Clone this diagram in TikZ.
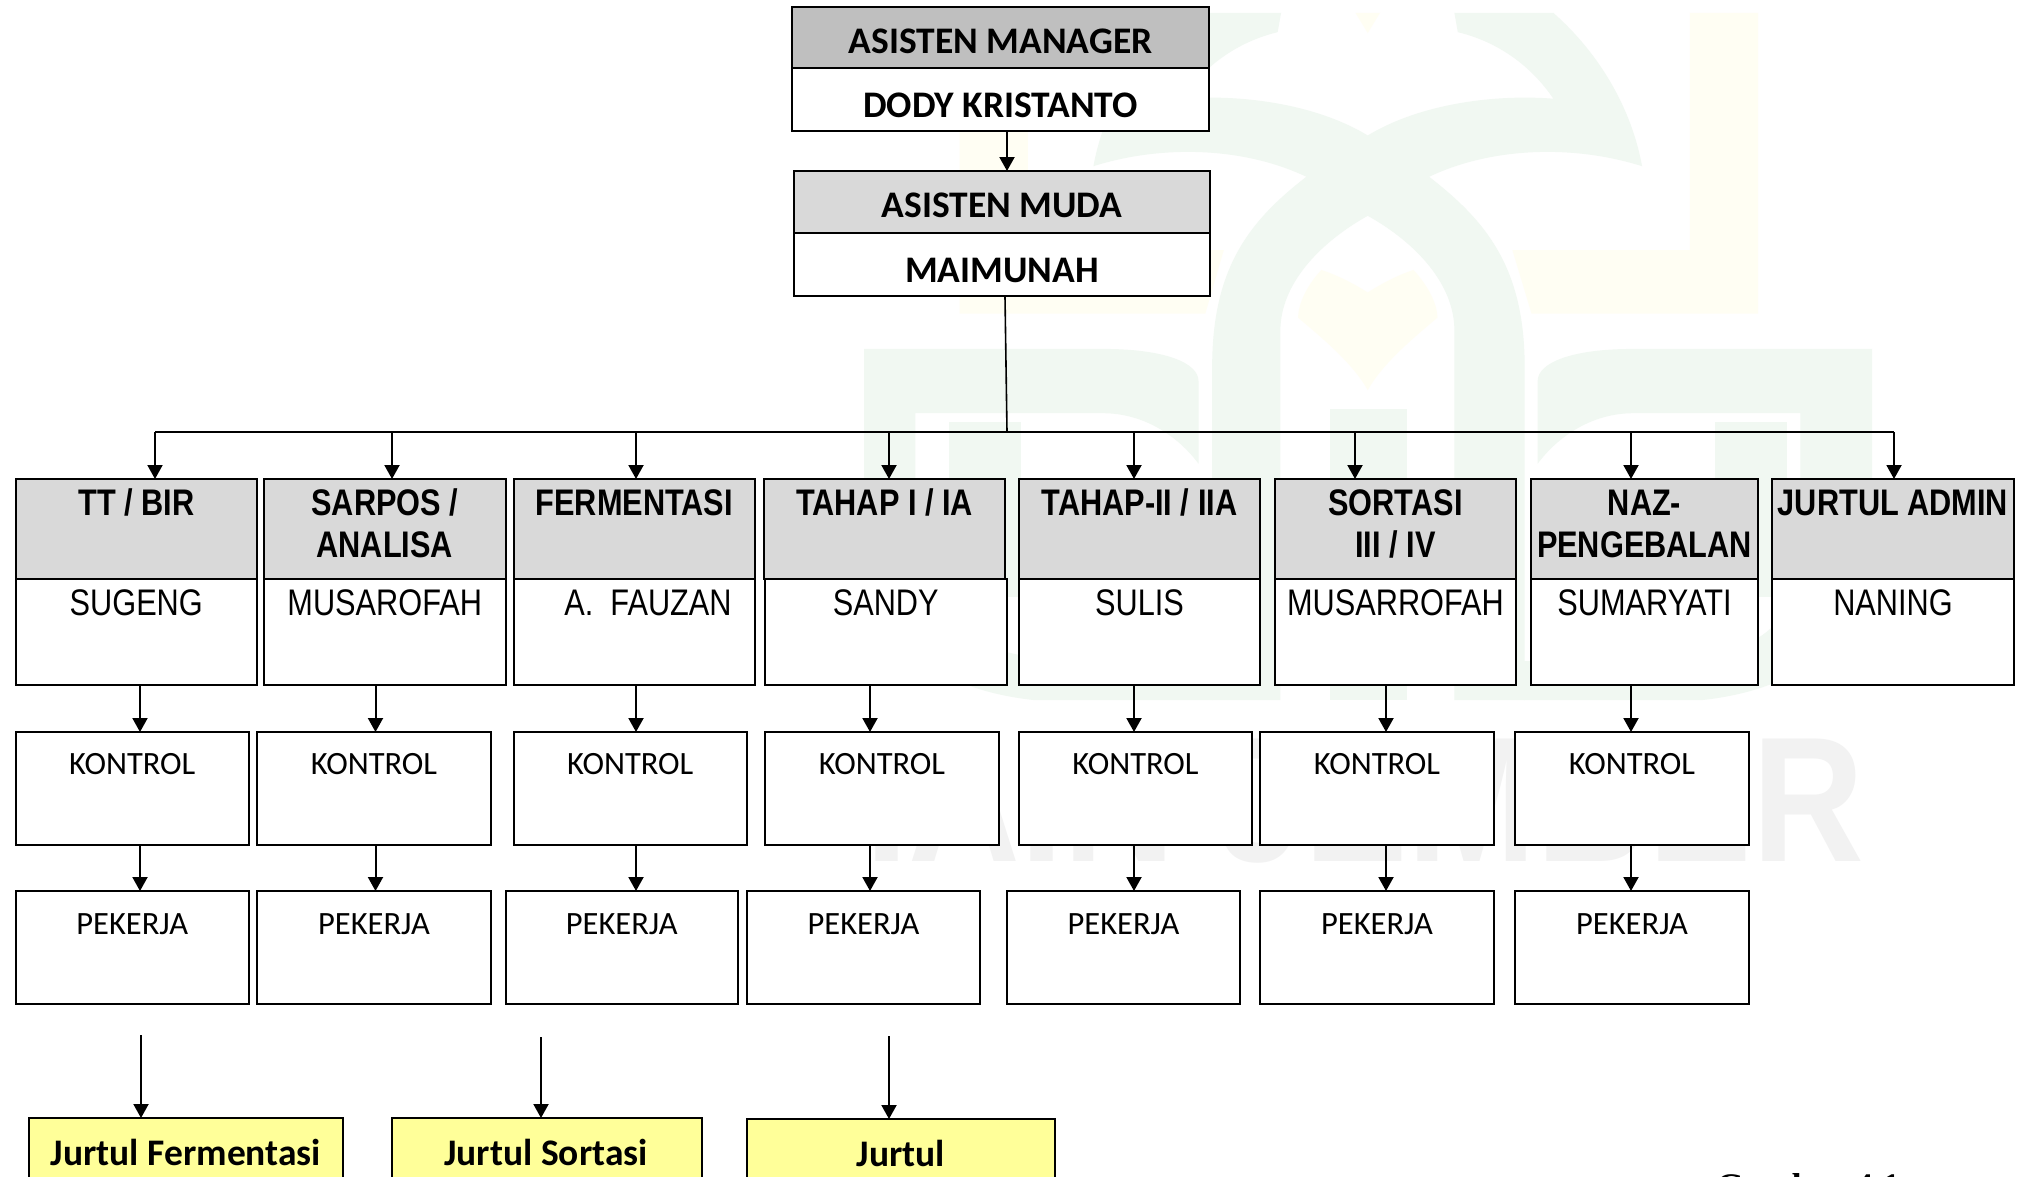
\documentclass[tikz,border=0pt]{standalone}
\usepackage{fontspec}
\usetikzlibrary{arrows.meta}
\newfontfamily\carlitofam{Carlito}
\newfontfamily\hdrfam[FakeStretch=0.83]{Liberation Sans}
\newfontfamily\wmfam[FakeStretch=0.87]{Liberation Sans}
\setmainfont{Liberation Serif}
\definecolor{wmgreen}{HTML}{F1F8F2}
\definecolor{wmyellow}{HTML}{FFFEF3}
\definecolor{wmgrey}{HTML}{F2F2F2}
\definecolor{headgrey}{HTML}{D9D9D9}
\definecolor{mgrgrey}{HTML}{BFBFBF}
\definecolor{jurtul}{HTML}{FFFF99}
\tikzset{
  boxbase/.style={draw=black,line width=2pt,inner sep=0pt,outer sep=0pt},
  headbox/.style={boxbase,fill=headgrey},
  mgrbox/.style={boxbase,fill=mgrgrey},
  plainbox/.style={boxbase,fill=white},
  yellowbox/.style={boxbase,fill=jurtul},
  txt/.style={anchor=base,inner sep=0pt,align=center,text=black},
  bigb/.style={txt,font=\carlitofam\fontsize{37.5}{40}\selectfont\bfseries},
  hdrb/.style={txt,font=\hdrfam\fontsize{37}{42.5}\selectfont\bfseries},
  hdrr/.style={txt,font=\hdrfam\fontsize{37}{42}\selectfont},
  small/.style={txt,font=\carlitofam\fontsize{32.5}{36}\selectfont},
  arr/.style={draw=black,line width=2pt,-{Triangle[length=14pt,width=15pt]}},
  wire/.style={draw=black,line width=2pt},
}
% \bxt{name}{box style}{x1}{y1}{x2}{y2}{text style}{baseline y}{text}
\newcommand\bxt[9]{%
  \pgfmathsetmacro\bw{#5-#3}\pgfmathsetmacro\bh{#6-#4}%
  \node[#2,minimum width=\bw pt,minimum height=\bh pt] (#1) at ({(#3+#5)/2},{(#4+#6)/2}) {};%
  \node[#7] (#1t) at ({(#3+#5)/2},#8) {#9};%
}
% \bxe{name}{box style}{x1}{y1}{x2}{y2}: a box with no text of its own
\newcommand\bxe[6]{%
  \pgfmathsetmacro\bw{#5-#3}\pgfmathsetmacro\bh{#6-#4}%
  \node[#2,minimum width=\bw pt,minimum height=\bh pt] (#1) at ({(#3+#5)/2},{(#4+#6)/2}) {};%
}
\begin{document}
\begin{tikzpicture}[x=1pt,y=-1pt]
\path[use as bounding box,clip] (0,0) rectangle (2027,1176);
\fill[white] (0,0) rectangle (2027,1176);
% watermark: logo (drawn in its own coordinates)
\begin{scope}[shift={(830,0)},xscale=0.6824,yscale=0.4591]
  \fill[wmyellow] (1260,28) -- (1360,28) -- (1360,683) -- (1028,683) -- (1000,545) -- (1260,545) -- cycle;
  \fill[wmyellow] (190,100) -- (290,100) -- (290,545) -- (577,545) -- (550,683) -- (190,683) -- cycle;
  \fill[wmyellow] (770,28) -- (806,28) -- (788,72) -- cycle;
  \fill[wmyellow] (720,588) .. controls (745,600) and (770,620) .. (788,637) .. controls (806,620) and (830,600) .. (855,588) .. controls (875,620) and (890,660) .. (890,692) .. controls (860,730) and (810,790) .. (788,850) .. controls (766,790) and (716,730) .. (686,692) .. controls (686,660) and (700,620) .. (720,588) -- cycle;
  % crown and arch
  \fill[wmgreen] (516,28) -- (661,28) -- (656,70) .. controls (600,90) and (550,140) .. (516,215) .. controls (600,205) and (710,225) .. (788,295) .. controls (866,225) and (976,205) .. (1060,215) .. controls (1026,140) and (976,90) .. (920,70) -- (915,28) -- (1060,28) .. controls (1130,120) and (1175,240) .. (1190,362) .. controls (1090,315) and (970,320) .. (878,385) .. controls (960,480) and (1018,580) .. (1018,800) -- (1018,1525) -- (915,1525) -- (915,720) .. controls (915,620) and (860,530) .. (788,470) .. controls (716,530) and (660,620) .. (660,720) -- (660,1525) -- (560,1525) -- (560,800) .. controls (560,580) and (616,480) .. (698,385) .. controls (606,320) and (486,315) .. (386,362) .. controls (401,240) and (446,120) .. (516,28) -- cycle;
  \fill[wmgreen] (733,890) rectangle (845,1525);
  % left and right bowls
  \fill[wmgreen,even odd rule] (50,760) -- (400,760) .. controls (490,760) and (540,790) .. (540,830) -- (540,1010) .. controls (510,950) and (460,900) .. (400,900) -- (125,900) -- (125,1200) .. controls (125,1370) and (230,1440) .. (380,1440) -- (560,1440) -- (560,1525) -- (300,1525) .. controls (140,1500) and (50,1370) .. (50,1200) -- cycle;
  \fill[wmgreen] (175,920) rectangle (280,1300);
  \fill[wmgreen,even odd rule] (1527,760) -- (1177,760) .. controls (1087,760) and (1037,790) .. (1037,830) -- (1037,1010) .. controls (1067,950) and (1117,900) .. (1177,900) -- (1422,900) -- (1422,1200) .. controls (1422,1370) and (1347,1440) .. (1197,1440) -- (1017,1440) -- (1017,1525) -- (1277,1525) .. controls (1437,1500) and (1527,1370) .. (1527,1200) -- cycle;
  \fill[wmgreen] (1297,920) rectangle (1402,1300);
\end{scope}
\node[anchor=base,inner sep=0pt,text=wmgrey,font=\wmfam\fontsize{178}{178}\selectfont\bfseries] (wm) at (1365,861) {IAIN JEMBER};

% top boxes
\bxt{mgrh}{mgrbox}{792}{7}{1209}{68}{bigb}{53}{ASISTEN MANAGER}
\bxt{mgrb}{plainbox}{792}{68}{1209}{131}{bigb}{117}{DODY KRISTANTO}
\bxt{mudh}{headbox}{794}{171}{1210}{233}{bigb}{217}{ASISTEN MUDA}
\bxt{mudb}{plainbox}{794}{233}{1210}{295.5}{bigb}{282}{MAIMUNAH}

% section heads and bodies
\bxt{h1}{headbox}{15.5}{479}{257}{579}{hdrb}{515}{TT / BIR}
\bxt{h2}{headbox}{264}{479}{505.5}{579}{hdrb}{557.5}{SARPOS /\\ANALISA}
\bxt{h3}{headbox}{513.5}{479}{755}{579}{hdrb}{515}{FERMENTASI}
\bxt{h4}{headbox}{764}{479}{1005}{579}{hdrb}{515}{TAHAP I / IA}
\bxt{h5}{headbox}{1019}{479}{1260}{579}{hdrb}{515}{TAHAP-II / IIA}
\bxt{h6}{headbox}{1275}{479}{1516}{579}{hdrb}{557.5}{SORTASI\\III / IV}
\bxt{h7}{headbox}{1531}{479}{1758}{579}{hdrb}{557.5}{NAZ-\\PENGEBALAN}
\bxt{h8}{headbox}{1772}{479}{2014}{579}{hdrb}{515}{JURTUL ADMIN}
\bxt{p1}{plainbox}{15.5}{579}{257}{685}{hdrr}{615}{SUGENG}
\bxt{p2}{plainbox}{264}{579}{505.5}{685}{hdrr}{615}{MUSAROFAH}
\bxe{p3}{plainbox}{513.5}{579}{755}{685}
\node[hdrr] (p3t) at (648,615) {A.\ \ FAUZAN};
\bxt{p4}{plainbox}{765}{579}{1006.5}{685}{hdrr}{615}{SANDY}
\bxt{p5}{plainbox}{1019}{579}{1260}{685}{hdrr}{615}{SULIS}
\bxt{p6}{plainbox}{1275}{579}{1516}{685}{hdrr}{615}{MUSARROFAH}
\bxt{p7}{plainbox}{1531}{579}{1758}{685}{hdrr}{615}{SUMARYATI}
\bxt{p8}{plainbox}{1772}{579}{2014}{685}{hdrr}{615}{NANING}

% KONTROL row
\bxt{k1}{plainbox}{15.5}{732}{249}{844.5}{small}{774}{KONTROL}
\bxt{k2}{plainbox}{257}{732}{491}{844.5}{small}{774}{KONTROL}
\bxt{k3}{plainbox}{513.5}{732}{747}{844.5}{small}{774}{KONTROL}
\bxt{k4}{plainbox}{765}{732}{999}{844.5}{small}{774}{KONTROL}
\bxt{k5}{plainbox}{1019}{732}{1252}{844.5}{small}{774}{KONTROL}
\bxt{k6}{plainbox}{1260}{732}{1494}{844.5}{small}{774}{KONTROL}
\bxt{k7}{plainbox}{1515}{732}{1749}{844.5}{small}{774}{KONTROL}

% PEKERJA row
\bxt{w1}{plainbox}{15.5}{891}{249}{1003.5}{small}{934}{PEKERJA}
\bxt{w2}{plainbox}{257}{891}{491}{1003.5}{small}{934}{PEKERJA}
\bxt{w3}{plainbox}{505.5}{891}{738}{1003.5}{small}{934}{PEKERJA}
\bxt{w4}{plainbox}{747}{891}{980}{1003.5}{small}{934}{PEKERJA}
\bxt{w5}{plainbox}{1007}{891}{1240}{1003.5}{small}{934}{PEKERJA}
\bxt{w6}{plainbox}{1260}{891}{1494}{1003.5}{small}{934}{PEKERJA}
\bxt{w7}{plainbox}{1515}{891}{1749}{1003.5}{small}{934}{PEKERJA}

% Jurtul boxes, running off the page
\bxe{j1}{yellowbox}{29}{1118}{343}{1240}
\node[bigb] (j1t) at (186,1165) {Jurtul Fermentasi};
\bxe{j2}{yellowbox}{392}{1118}{702}{1240}
\node[bigb] (j2t) at (546,1165) {Jurtul Sortasi};
\bxe{j3}{yellowbox}{747}{1119}{1055}{1240}
\node[bigb] (j3t) at (901,1166) {Jurtul};

% caption, cut by the page edge
\node[anchor=base west,inner sep=0pt,font=\fontsize{36}{40}\selectfont\bfseries] (cap) at (1716,1198) {Gambar 4.1};

% bus
\coordinate (bm) at (1007,432);
\foreach \n/\x in {1/155,2/392,3/636,4/889,5/1134,6/1355,7/1631,8/1894}{\coordinate (b\n) at (\x,432);}
\draw[wire,line width=1.6pt] (1005,297) -- (bm);
\draw[wire] (b1) -- (b8);
\foreach \n in {1,...,8}{\draw[arr] (b\n) -- (b\n |- h\n.north);}
% manager to muda
\coordinate (am) at (1007,0);
\draw[arr] (am |- mgrb.south) -- (am |- mudh.north);
% body -> kontrol -> pekerja
\foreach \n/\x in {1/140,2/375.5,3/636,4/870,5/1134,6/1386,7/1631}{
  \coordinate (c\n) at (\x,0);
  \draw[arr] (c\n |- p\n.south) -- (c\n |- k\n.north);
  \draw[arr] (c\n |- k\n.south) -- (c\n |- w\n.north);
}
% free arrows to jurtul boxes
\coordinate (f1) at (141,1035);
\coordinate (f2) at (541,1037);
\coordinate (f3) at (889,1036);
\draw[arr] (f1) -- (f1 |- j1.north);
\draw[arr] (f2) -- (f2 |- j2.north);
\draw[arr] (f3) -- (f3 |- j3.north);
\end{tikzpicture}
\end{document}
